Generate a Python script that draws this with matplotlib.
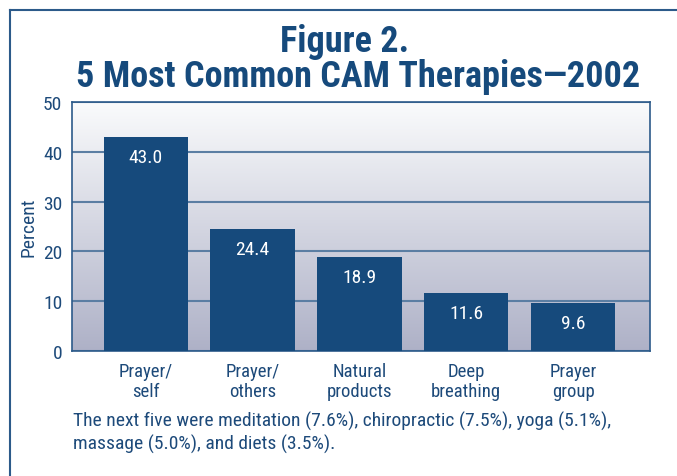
import numpy as np
import matplotlib
matplotlib.use("Agg")
import matplotlib.pyplot as plt
import matplotlib.font_manager as fm
from matplotlib.colors import LinearSegmentedColormap
from matplotlib.lines import Line2D

# data
categories = ["Prayer/\nself", "Prayer/\nothers", "Natural\nproducts", "Deep\nbreathing", "Prayer\ngroup"]
percent = [43.0, 24.4, 18.9, 11.6, 9.6]
yticks = [0, 10, 20, 30, 40, 50]

navy = "#164a7c"
textblue = "#1d4a7a"

# pick a condensed sans if there is one
have = set(f.name for f in fm.fontManager.ttflist)
wanted = ["Roboto Condensed", "Archivo Narrow", "PT Sans Narrow", "Sofia Sans Condensed",
          "Liberation Sans Narrow"]
font = [n for n in wanted if n in have][:1] + ["DejaVu Sans"]

fig = plt.figure(figsize=(6.77, 4.77), dpi=100)
W, H = 677, 477
ax = fig.add_axes([72 / W, 1 - 352 / H, (650 - 72) / W, (352 - 103) / H])

# gradient background
grad = np.linspace(0, 1, 256).reshape(-1, 1)
cmap = LinearSegmentedColormap.from_list("bg", ["#fafbfc", "#aeb1c7"])
ax.imshow(grad, aspect="auto", cmap=cmap, extent=[0, 1, 0, 1],
          transform=ax.transAxes, zorder=0)

x = np.arange(len(categories))
bars = ax.bar(x, percent, width=0.79, color=navy, zorder=3)
for xi, v in zip(x, percent):
    ax.text(xi, v - 4.0, f"{v:.1f}", ha="center", va="center", color="white",
            fontsize=14, family=font, zorder=4)

ax.set_xlim(-0.69, 4.72)
ax.set_ylim(0, 50)
ax.set_yticks(yticks)
ax.set_yticklabels([str(t) for t in yticks], family=font, fontsize=14, color=textblue)
ax.set_xticks(x)
ax.set_xticklabels(categories, family=font, fontsize=13.5, color=textblue, linespacing=1.1)
ax.tick_params(axis="both", length=0, pad=7)
ax.tick_params(axis="x", pad=8)
ax.yaxis.grid(True, color="#5b7ea3", linewidth=1.5, zorder=1)
for s in ax.spines.values():
    s.set_color("#2c5a8a")
    s.set_linewidth(1.2)
ax.set_ylabel("Percent", family=font, fontsize=14, color=textblue, labelpad=4)

# title
fig.text(345 / W, 1 - 42 / H, "Figure 2.", ha="center", va="center",
         family=font, fontsize=26, fontweight="bold", color=navy)
fig.text(358 / W, 1 - 77 / H, "5 Most Common CAM Therapies\u20142002", ha="center", va="center",
         family=font, fontsize=26, fontweight="bold", color=navy)

# footnote
fig.text(73 / W, 1 - 433 / H,
         "The next five were meditation (7.6%), chiropractic (7.5%), yoga (5.1%),\n"
         "massage (5.0%), and diets (3.5%).",
         ha="left", va="center", family=font, fontsize=14, color=textblue, linespacing=1.3)

# outer frame lines
fig.add_artist(Line2D([10 / W, 10 / W], [0, 1 - 11 / H], color="#2c5a8a", linewidth=1.5))
fig.add_artist(Line2D([10 / W, 1], [1 - 11 / H, 1 - 11 / H], color="#2c5a8a", linewidth=1.5))

fig.savefig("out.png", dpi=100)
